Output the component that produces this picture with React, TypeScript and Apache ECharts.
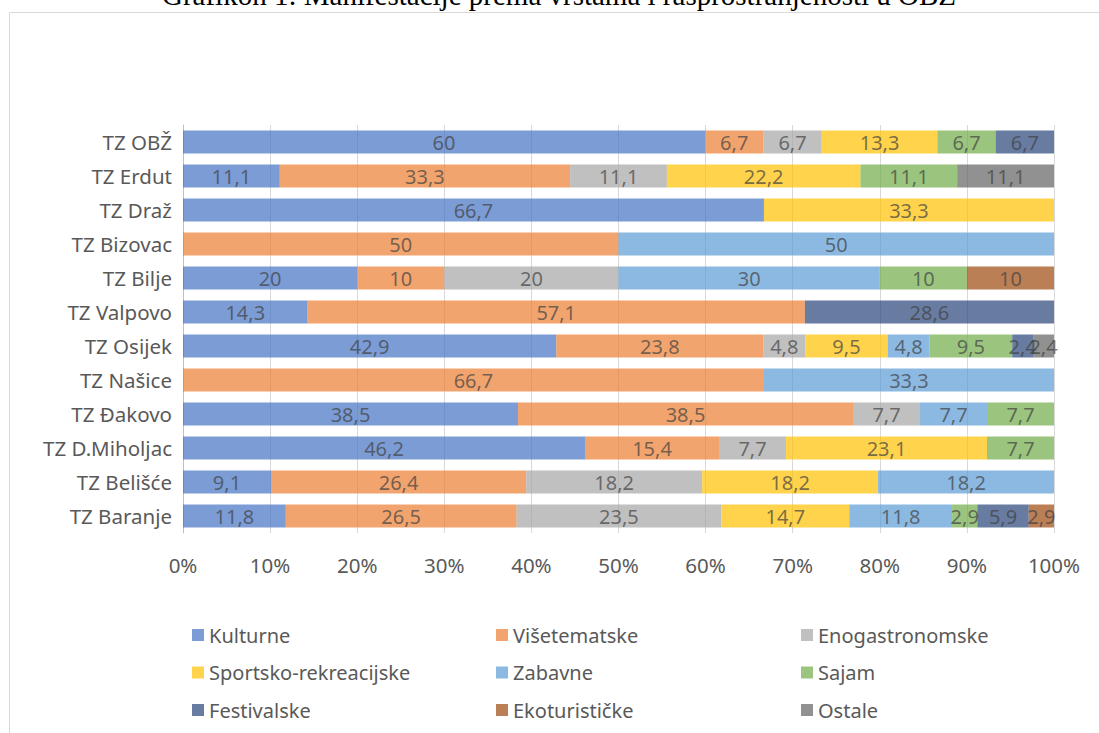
import React, { useEffect, useRef } from "react";
import * as echarts from "echarts";

const categories = [
  "TZ OBŽ",
  "TZ Erdut",
  "TZ Draž",
  "TZ Bizovac",
  "TZ Bilje",
  "TZ Valpovo",
  "TZ Osijek",
  "TZ Našice",
  "TZ Đakovo",
  "TZ D.Miholjac",
  "TZ Belišće",
  "TZ Baranje",
];

const kulturne = [60, 11.1, 66.7, 0, 20, 14.3, 42.9, 0, 38.5, 46.2, 9.1, 11.8];
const visetematske = [6.7, 33.3, 0, 50, 10, 57.1, 23.8, 66.7, 38.5, 15.4, 26.4, 26.5];
const enogastronomske = [6.7, 11.1, 0, 0, 20, 0, 4.8, 0, 7.7, 7.7, 18.2, 23.5];
const sportsko = [13.3, 22.2, 33.3, 0, 0, 0, 9.5, 0, 0, 23.1, 18.2, 14.7];
const zabavne = [0, 0, 0, 50, 30, 0, 4.8, 33.3, 7.7, 0, 18.2, 11.8];
const sajam = [6.7, 11.1, 0, 0, 10, 0, 9.5, 0, 7.7, 7.7, 0, 2.9];
const festivalske = [6.7, 0, 0, 0, 0, 28.6, 2.4, 0, 0, 0, 0, 5.9];
const ekoturisticke = [0, 0, 0, 0, 10, 0, 0, 0, 0, 0, 0, 2.9];
const ostale = [0, 11.1, 0, 0, 0, 0, 2.4, 0, 0, 0, 0, 0];

const seriesNames = [
  "Kulturne",
  "Višetematske",
  "Enogastronomske",
  "Sportsko-rekreacijske",
  "Zabavne",
  "Sajam",
  "Festivalske",
  "Ekoturističke",
  "Ostale",
];
const seriesData = [
  kulturne,
  visetematske,
  enogastronomske,
  sportsko,
  zabavne,
  sajam,
  festivalske,
  ekoturisticke,
  ostale,
];
const seriesColors = [
  "#4472C4",
  "#ED7D31",
  "#A5A5A5",
  "#FFC000",
  "#5B9BD5",
  "#70AD47",
  "#264478",
  "#9E480E",
  "#636363",
];

const xTicks = [0, 10, 20, 30, 40, 50, 60, 70, 80, 90, 100];

const titleText = "Grafikon 1: Manifestacije prema vrstama i rasprostranjenosti u OBŽ";

const FONT = "Noto Sans";

export default function App() {
  const ref = useRef<HTMLDivElement>(null);

  useEffect(() => {
    if (!ref.current) return;
    const chart = echarts.init(ref.current, undefined, { renderer: "svg" });

    const totals = categories.map((_, i) =>
      seriesData.reduce((s, arr) => s + arr[i], 0)
    );

    const series = seriesNames.map((name, si) => ({
      name,
      type: "bar",
      stack: "total",
      barWidth: 23,
      itemStyle: { color: seriesColors[si], opacity: 0.7 },
      label: {
        show: true,
        position: "inside",
        color: "#404040",
        fontFamily: FONT,
        fontSize: 20,
        formatter: (p: any) => {
          const raw = seriesData[si][p.dataIndex];
          return raw > 0 ? String(raw).replace(".", ",") : "";
        },
      },
      data: seriesData[si].map((v, i) => (v / totals[i]) * 100),
    }));

    const legendCols = [
      [seriesNames[0], seriesNames[3], seriesNames[6]],
      [seriesNames[1], seriesNames[4], seriesNames[7]],
      [seriesNames[2], seriesNames[5], seriesNames[8]],
    ];
    const legendLefts = [187, 491, 796];

    chart.setOption({
      animation: false,
      textStyle: { fontFamily: FONT },
      grid: { left: 183, right: 45, top: 125, bottom: 200, containLabel: false },
      xAxis: {
        type: "value",
        min: xTicks[0],
        max: xTicks[xTicks.length - 1],
        interval: 10,
        axisLine: { show: false },
        axisTick: { show: false },
        splitLine: { show: true, lineStyle: { color: "#D9D9D9", width: 1 } },
        axisLabel: {
          formatter: "{value}%",
          color: "#595959",
          fontFamily: FONT,
          fontSize: 20.5,
          margin: 21,
        },
      },
      yAxis: {
        type: "category",
        inverse: true,
        data: categories,
        axisLine: { show: true, lineStyle: { color: "#BFBFBF", width: 1 } },
        axisTick: { show: false },
        axisLabel: {
          color: "#595959",
          fontFamily: FONT,
          fontSize: 20.5,
          margin: 11,
        },
      },
      legend: legendCols.map((data, i) => ({
        data,
        orient: "vertical",
        left: legendLefts[i],
        top: 620,
        icon: "rect",
        itemWidth: 12,
        itemHeight: 12,
        itemGap: 17.5,
        selectedMode: false,
        textStyle: {
          color: "#595959",
          fontFamily: FONT,
          fontSize: 20,
          lineHeight: 20,
        },
      })),
      graphic: [
        {
          type: "rect",
          shape: { x: 9.5, y: 12.5, width: 1200, height: 800 },
          style: { fill: "none", stroke: "#D9D9D9", lineWidth: 1 },
          silent: true,
        },
        {
          type: "text",
          x: 559,
          y: -5,
          style: {
            text: titleText,
            fontFamily: "Liberation Serif",
            fontSize: 29,
            fill: "#000000",
            textAlign: "center",
            textVerticalAlign: "middle",
          },
          silent: true,
        },
      ],
      series,
    });

    return () => chart.dispose();
  }, []);

  return (
    <div
      ref={ref}
      style={{ position: "absolute", left: 0, top: 0, width: 1099, height: 733 }}
    />
  );
}
